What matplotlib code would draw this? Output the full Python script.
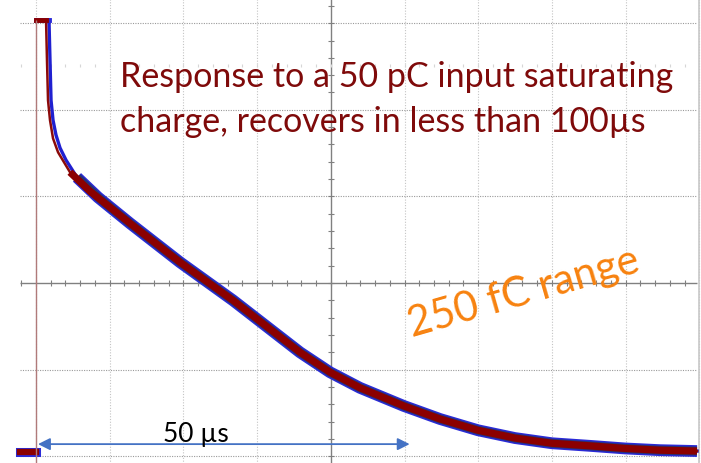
# %% Packages

import numpy as np
import matplotlib.pyplot as plt

# %% Data (time in us, amplitude in divisions)

t_blue = [-2.17, 0.0, 0.0, 1.76, 1.90, 2.04, 2.31, 2.71, 3.26, 4.07, 5.56, 8.41,
          12.75, 19.54, 26.73, 35.82, 39.89, 43.96, 49.93, 54.82, 59.97, 64.99,
          70.01, 75.17, 79.92, 84.67, 89.69]
v_blue = [-1.95, -1.95, 3.04, 3.04, 2.57, 2.11, 1.88, 1.71, 1.56, 1.42, 1.22, 0.99,
          0.69, 0.24, -0.20, -0.80, -1.03, -1.21, -1.42, -1.57, -1.70, -1.79,
          -1.85, -1.88, -1.91, -1.93, -1.94]

t_red = [-2.17, 0.0, 0.0, 1.36, 1.49, 1.63, 1.90, 2.31, 2.99, 4.61, 7.33,
         12.75, 19.54, 26.73, 35.82, 39.89, 43.96, 49.93, 54.82, 59.97, 64.99,
         70.01, 75.17, 79.92, 84.67, 89.69]
v_red = [-1.95, -1.95, 3.04, 3.04, 2.57, 2.11, 1.88, 1.67, 1.51, 1.28, 1.06,
         0.69, 0.24, -0.20, -0.80, -1.03, -1.21, -1.42, -1.57, -1.70, -1.79,
         -1.85, -1.88, -1.91, -1.93, -1.94]

grid_t = [0, 10, 20, 30, 50, 60, 70, 80, 90]
grid_v = [-2, -1, 1, 2, 3]

title_lines = ["Response to a 50 pC input saturating",
               "charge, recovers in less than 100\u00b5s"]
range_label = "250 fC range"
span_label = "50 \u00b5s"
span = (0.27, 50.7)

# %% Figure

plt.rcParams['font.family'] = ['Lato', 'DejaVu Sans']

fig = plt.figure(figsize=(7.01, 4.63), dpi=100)
ax = fig.add_axes([0, 0, 1, 1])
ax.axis('off')

x_left, x_right = -2.17, 89.7   # screen edges
ax.set(xlim=(-4.885, 90.23), ylim=(-2.078, 3.268))

# grid
ax.vlines(grid_t, -2.2, 3.4, color='#c4c4c4', lw=0.8, linestyles=(0, (1, 1.5)))
ax.hlines(grid_v, x_left, x_right, color='#9a9a9a', lw=0.8, linestyles=(0, (1, 1.2)))

# center axes with minor ticks
ax.hlines(0, x_left, x_right, color='#808080', lw=1.0)
ax.vlines(40, -2.2, 3.4, color='#808080', lw=1.0)
tk_t = np.arange(-2, 90, 2)
ax.vlines(tk_t, -0.035, 0.035, color='#808080', lw=0.8)
tk_v = np.arange(-2.0, 3.3, 0.2)
ax.hlines(tk_v, 40 - 0.41, 40 + 0.41, color='#808080', lw=0.8)
ax.vlines(tk_t, 2.49, 2.53, color='#d6d6d6', lw=0.8)

# screen border on the right
ax.vlines(90.0, -2.2, 3.4, color='#c8c8c8', lw=1.2)

# traces: thin over the whole record, wide noisy band on the slow part
tb, vb = np.array(t_blue), np.array(v_blue)
tr, vr = np.array(t_red), np.array(v_red)
ax.plot(tb[2:], vb[2:], color='#2020d0', lw=2.4, solid_joinstyle='round')
ax.plot(tr[2:], vr[2:], color='#8b0a0a', lw=1.8, solid_joinstyle='round')
ax.plot(tb[2:4], vb[2:4], color='#2a2ad8', lw=3.5)
ax.plot(tr[2:4], vr[2:4], color='#8b0000', lw=3.5)
mb = tb >= 5.5
mr = tr >= 4.5
ax.plot(tb[mb], vb[mb], color='#2a2ad8', lw=8.5, solid_capstyle='butt')
ax.plot(tb[mb], vb[mb], color='#1e3a2a', lw=6.5, alpha=0.55, solid_capstyle='butt')
ax.plot(tr[mr], vr[mr], color='#8b0000', lw=5.2, solid_capstyle='butt')
ax.plot(tb[:2], vb[:2], color='#2a2ad8', lw=6.5)
ax.plot(tr[:2], vr[:2], color='#8b0000', lw=4.5)

# trigger marker
ax.vlines(0, -2.2, 3.04, color='#b07a7a', lw=1.0, zorder=5)

# annotations
ax.text(11.4, 2.26, title_lines[0], color='#7f0a0a', fontsize=24.5, va='baseline')
ax.text(11.4, 1.74, title_lines[1], color='#7f0a0a', fontsize=24.5, va='baseline')

ax.text(66.1, -0.115, range_label, color='#f7820f', fontsize=30, rotation=16,
        ha='center', va='center', rotation_mode='anchor')

ax.annotate('', xy=(span[0], -1.86), xytext=(span[1], -1.86),
            arrowprops=dict(arrowstyle='<|-|>', color='#4472c4', lw=1.3,
                            mutation_scale=18, shrinkA=0, shrinkB=0))
ax.text(21.7, -1.84, span_label, color='black', fontsize=19, ha='center', va='baseline')

fig.savefig('out.png', dpi=100)
